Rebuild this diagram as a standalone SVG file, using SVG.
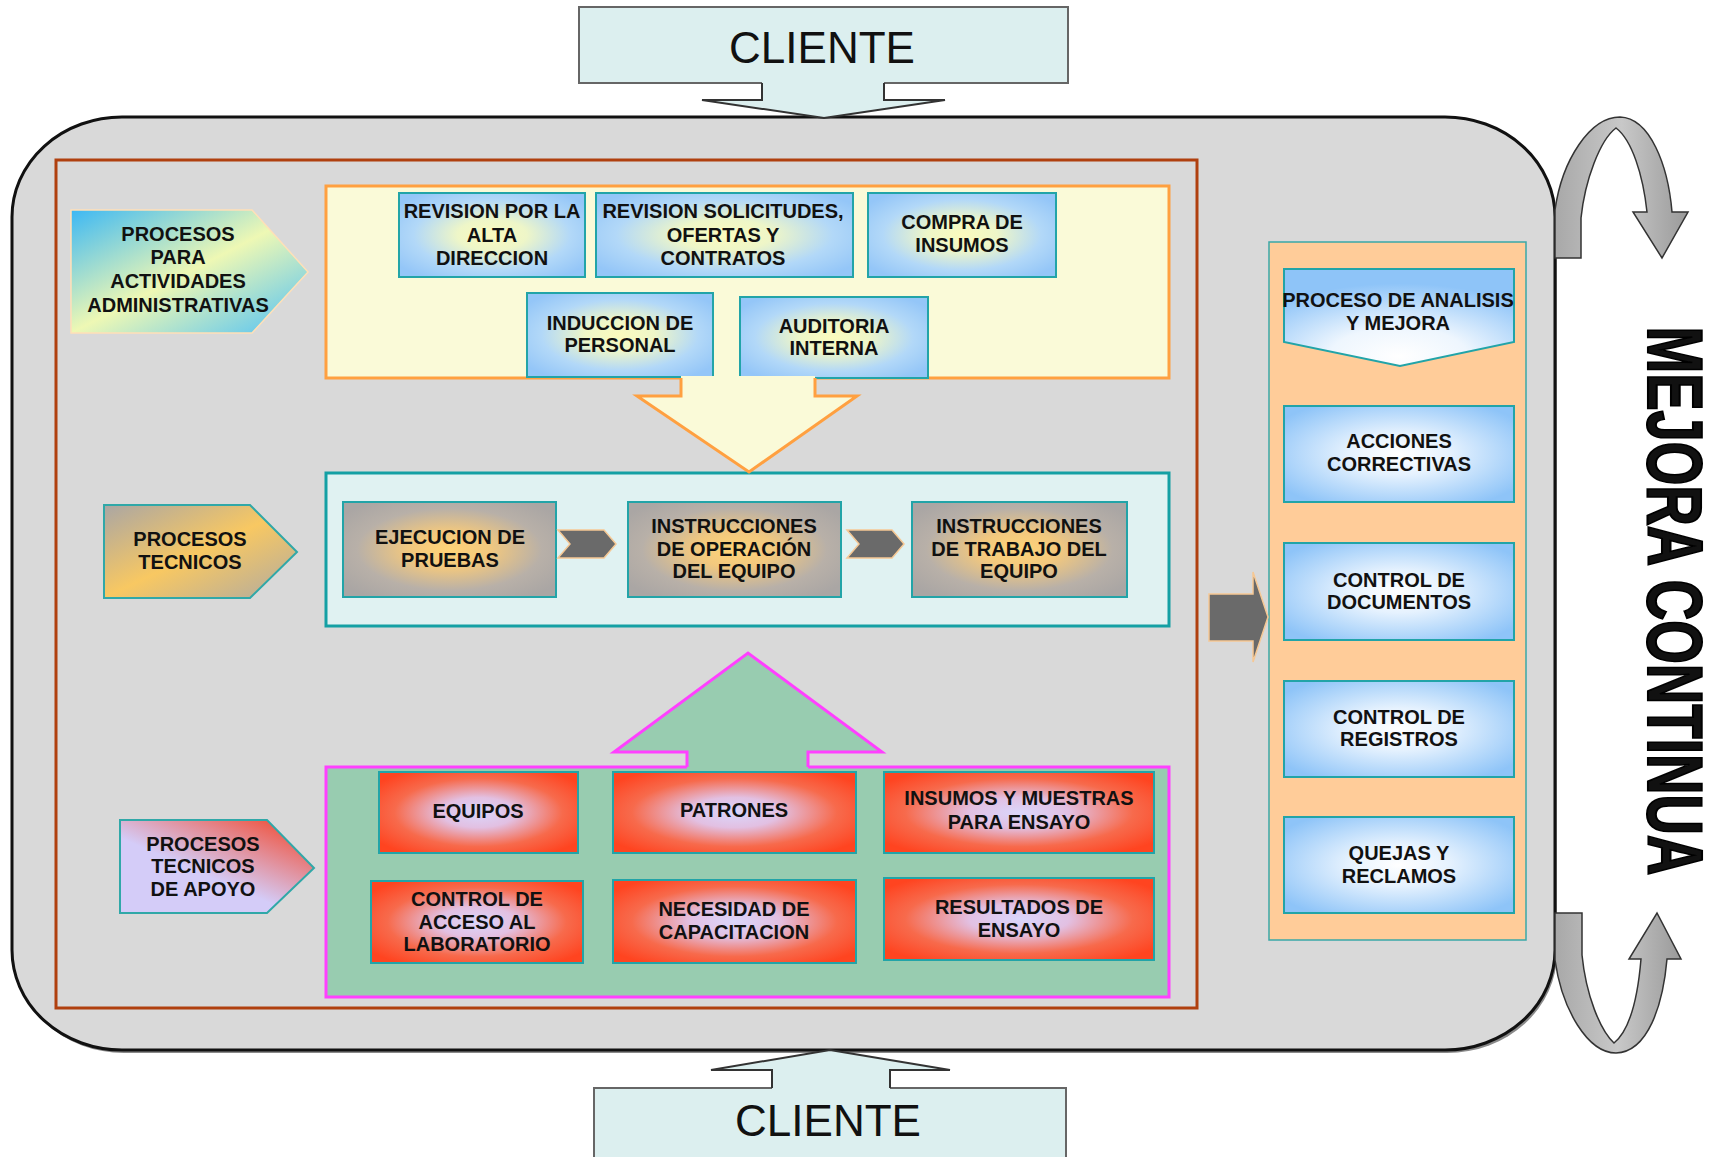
<svg xmlns="http://www.w3.org/2000/svg" width="1727" height="1157" viewBox="0 0 1727 1157">
<defs>
<radialGradient id="gBlue" cx="0.5" cy="0.5" r="0.62">
<stop offset="0" stop-color="#fbfbbe"/><stop offset="0.3" stop-color="#eef6c8"/><stop offset="0.68" stop-color="#b2d8f8"/><stop offset="1" stop-color="#94c6f8"/>
</radialGradient>
<radialGradient id="gGray" cx="0.5" cy="0.5" r="0.62">
<stop offset="0" stop-color="#ffd478"/><stop offset="0.3" stop-color="#f2c87e"/><stop offset="0.7" stop-color="#b8b0a8"/><stop offset="1" stop-color="#aaa6a4"/>
</radialGradient>
<radialGradient id="gRed" cx="0.5" cy="0.5" r="0.62">
<stop offset="0" stop-color="#dad6fb"/><stop offset="0.3" stop-color="#e2c0e2"/><stop offset="0.68" stop-color="#f76a4c"/><stop offset="1" stop-color="#ff4420"/>
</radialGradient>
<radialGradient id="gWhite" cx="0.5" cy="0.5" r="0.62">
<stop offset="0" stop-color="#ffffff"/><stop offset="0.35" stop-color="#e6f2fe"/><stop offset="1" stop-color="#8ec4f8"/>
</radialGradient>
<radialGradient id="gAnal" cx="0.5" cy="0.9" r="0.75">
<stop offset="0" stop-color="#ffffff"/><stop offset="0.4" stop-color="#eef6fe"/><stop offset="1" stop-color="#8ec4f8"/>
</radialGradient>
<linearGradient id="gAdm" x1="0" y1="0" x2="1" y2="1">
<stop offset="0" stop-color="#3cb8f4"/><stop offset="0.5" stop-color="#eef8b4"/><stop offset="1" stop-color="#4cc0f8"/>
</linearGradient>
<linearGradient id="gTec" x1="0" y1="0" x2="1" y2="1">
<stop offset="0" stop-color="#aaa6a4"/><stop offset="0.5" stop-color="#f8c862"/><stop offset="1" stop-color="#b0aaa2"/>
</linearGradient>
<linearGradient id="gApo" x1="0.95" y1="0.05" x2="0.45" y2="0.6">
<stop offset="0" stop-color="#f24a30"/><stop offset="1" stop-color="#d4ccf8"/>
</linearGradient>
<linearGradient id="gCurl" x1="0" y1="0" x2="1" y2="0">
<stop offset="0" stop-color="#a8a8a8"/><stop offset="0.5" stop-color="#c8c8c8"/><stop offset="1" stop-color="#9a9a9a"/>
</linearGradient>
</defs>
<style>
text{font-family:"Liberation Sans",Arial,sans-serif;font-weight:bold;font-size:20px;fill:#111;text-anchor:middle}
.cli{font-weight:normal;font-size:44px;fill:#111}
.blue{fill:url(#gBlue);stroke:#22a4a8;stroke-width:2}
.gray{fill:url(#gGray);stroke:#22a4a8;stroke-width:2}
.red{fill:url(#gRed);stroke:#22a4a8;stroke-width:2}
.wht{fill:url(#gWhite);stroke:#22a4a8;stroke-width:2}
.chev{fill:#6a6a6a;stroke:#f6c894;stroke-width:1.5}
.clibox{fill:#dcefef;stroke:#666;stroke-width:2}
.curl{fill:url(#gCurl);stroke:#333;stroke-width:1.5}
</style>

<rect width="1727" height="1157" fill="#ffffff"/>

<!-- outer process frame -->
<g id="frame">
<rect x="14" y="120" width="1543" height="933" rx="110" ry="100" fill="#8a8a8a"/>
<rect x="12" y="117" width="1543" height="933" rx="110" ry="100" fill="#d9d9d9" stroke="#111" stroke-width="3"/>
<rect x="56" y="160" width="1141" height="848" fill="none" stroke="#b0400f" stroke-width="3"/>
</g>

<!-- CLIENTE top -->
<g id="cliente-top">
<rect class="clibox" x="579" y="7" width="489" height="76"/>
<polygon points="762,82 762,100 702,100 824,118 945,100 884,100 884,82" fill="#dcefef"/>
<polyline points="762,83 762,100 702,100 824,118 945,100 884,100 884,83" fill="none" stroke="#333" stroke-width="2"/>
<text class="cli" x="822" y="63">CLIENTE</text>
</g>

<!-- CLIENTE bottom -->
<g id="cliente-bottom">
<rect class="clibox" x="594" y="1088" width="472" height="80"/>
<polygon points="772,1089 772,1070 711,1070 830,1050 950,1070 890,1070 890,1089" fill="#dcefef"/>
<polyline points="772,1088 772,1070 711,1070 830,1050 950,1070 890,1070 890,1088" fill="none" stroke="#333" stroke-width="2"/>
<text class="cli" x="828" y="1136">CLIENTE</text>
</g>

<!-- administrative block -->
<g id="admin-block">
<rect x="326" y="186" width="843" height="192" fill="#fafad8" stroke="#ffa040" stroke-width="3"/>
</g>
<g id="revision-alta-direccion">
<rect class="blue" x="399" y="193" width="186" height="84"/>
<text x="492" y="218">REVISION POR LA</text><text x="492" y="242">ALTA</text><text x="492" y="265">DIRECCION</text>
</g>
<g id="revision-solicitudes">
<rect class="blue" x="596" y="193" width="257" height="84"/>
<text x="723" y="218">REVISION SOLICITUDES,</text><text x="723" y="242">OFERTAS Y</text><text x="723" y="265">CONTRATOS</text>
</g>
<g id="compra-insumos">
<rect class="blue" x="868" y="193" width="188" height="84"/>
<text x="962" y="229">COMPRA DE</text><text x="962" y="252">INSUMOS</text>
</g>
<g id="induccion-personal">
<rect class="blue" x="527" y="293" width="186" height="84"/>
<text x="620" y="330">INDUCCION DE</text><text x="620" y="352">PERSONAL</text>
</g>
<g id="auditoria-interna">
<rect class="blue" x="740" y="297" width="188" height="81"/>
<text x="834" y="333">AUDITORIA</text><text x="834" y="355">INTERNA</text>
</g>
<g id="label-admin">
<polygon points="71,210 252,210 308,272 252,333 71,333" fill="url(#gAdm)" stroke="#ffe0b8" stroke-width="1.5"/>
<text x="178" y="241">PROCESOS</text><text x="178" y="264">PARA</text><text x="178" y="288">ACTIVIDADES</text><text x="178" y="312">ADMINISTRATIVAS</text>
</g>

<!-- technical block -->
<g id="tech-block">
<rect x="326" y="473" width="843" height="153" fill="#e0f2f2" stroke="#14a0a4" stroke-width="3"/>
</g>
<g id="ejecucion-pruebas">
<rect class="gray" x="343" y="502" width="213" height="95"/>
<text x="450" y="544">EJECUCION DE</text><text x="450" y="567">PRUEBAS</text>
</g>
<g id="instrucciones-operacion">
<rect class="gray" x="628" y="502" width="213" height="95"/>
<text x="734" y="533">INSTRUCCIONES</text><text x="734" y="556">DE OPERACIÓN</text><text x="734" y="578">DEL EQUIPO</text>
</g>
<g id="instrucciones-trabajo">
<rect class="gray" x="912" y="502" width="215" height="95"/>
<text x="1019" y="533">INSTRUCCIONES</text><text x="1019" y="556">DE TRABAJO DEL</text><text x="1019" y="578">EQUIPO</text>
</g>
<g id="label-tecnicos">
<polygon points="104,505 250,505 297,552 250,598 104,598" fill="url(#gTec)" stroke="#30a8a8" stroke-width="2"/>
<text x="190" y="546">PROCESOS</text><text x="190" y="569">TECNICOS</text>
</g>

<!-- support block -->
<g id="support-block">
<rect x="326" y="767" width="843" height="230" fill="#98ccb0" stroke="#ff40ff" stroke-width="3"/>
</g>
<g id="equipos">
<rect class="red" x="379" y="772" width="199" height="81"/>
<text x="478" y="818">EQUIPOS</text>
</g>
<g id="patrones">
<rect class="red" x="613" y="772" width="243" height="81"/>
<text x="734" y="817">PATRONES</text>
</g>
<g id="insumos-muestras">
<rect class="red" x="884" y="772" width="270" height="81"/>
<text x="1019" y="805">INSUMOS Y MUESTRAS</text><text x="1019" y="829">PARA ENSAYO</text>
</g>
<g id="control-acceso">
<rect class="red" x="371" y="881" width="212" height="82"/>
<text x="477" y="906">CONTROL DE</text><text x="477" y="929">ACCESO AL</text><text x="477" y="951">LABORATORIO</text>
</g>
<g id="necesidad-capacitacion">
<rect class="red" x="613" y="880" width="243" height="83"/>
<text x="734" y="916">NECESIDAD DE</text><text x="734" y="939">CAPACITACION</text>
</g>
<g id="resultados-ensayo">
<rect class="red" x="884" y="878" width="270" height="82"/>
<text x="1019" y="914">RESULTADOS DE</text><text x="1019" y="937">ENSAYO</text>
</g>
<g id="label-apoyo">
<polygon points="120,820 267,820 314,868 267,913 120,913" fill="url(#gApo)" stroke="#30a8a8" stroke-width="2"/>
<text x="203" y="851">PROCESOS</text><text x="203" y="873">TECNICOS</text><text x="203" y="896">DE APOYO</text>
</g>

<!-- analysis column -->
<g id="analysis-column">
<rect x="1269" y="242" width="257" height="698" fill="#ffcc99" stroke="#3aa8a8" stroke-width="1.5"/>
</g>
<g id="proceso-analisis">
<polygon points="1284,269 1514,269 1514,342 1400,366 1284,342" fill="url(#gAnal)" stroke="#22a4a8" stroke-width="2"/>
<text x="1398" y="307">PROCESO DE ANALISIS</text><text x="1398" y="330">Y MEJORA</text>
</g>
<g id="acciones-correctivas">
<rect class="wht" x="1284" y="406" width="230" height="96"/>
<text x="1399" y="448">ACCIONES</text><text x="1399" y="471">CORRECTIVAS</text>
</g>
<g id="control-documentos">
<rect class="wht" x="1284" y="543" width="230" height="97"/>
<text x="1399" y="587">CONTROL DE</text><text x="1399" y="609">DOCUMENTOS</text>
</g>
<g id="control-registros">
<rect class="wht" x="1284" y="681" width="230" height="96"/>
<text x="1399" y="724">CONTROL DE</text><text x="1399" y="746">REGISTROS</text>
</g>
<g id="quejas-reclamos">
<rect class="wht" x="1284" y="817" width="230" height="96"/>
<text x="1399" y="860">QUEJAS Y</text><text x="1399" y="883">RECLAMOS</text>
</g>

<!-- connectors -->
<g id="connectors">
<polygon points="681,376 681,396 637,396 749,472 857,396 815,396 815,376" fill="#fafad8"/>
<polyline points="681,378 681,396 637,396 749,472 857,396 815,396 815,378" fill="none" stroke="#ffa040" stroke-width="3"/>
<polygon points="687,769 687,752 614,752 748,653 882,752 808,752 808,769" fill="#98ccb0"/>
<polyline points="687,767 687,752 614,752 748,653 882,752 808,752 808,767" fill="none" stroke="#ff40ff" stroke-width="3"/>
<polygon class="chev" points="558,530 604,530 616,544 604,558 558,558 570,544"/>
<polygon class="chev" points="847,530 892,530 904,544 892,558 847,558 859,544"/>
<polygon class="chev" points="1209,594 1253,594 1253,572 1268,617 1253,662 1253,641 1209,641"/>
<path class="curl" d="M1555,258 L1581,258 L1581,218 C1585,180 1600,140 1616,128 C1632,140 1643,175 1647,212 L1633,212 L1662,258 L1688,212 L1672,212 C1668,165 1650,118 1620,117 C1590,117 1562,160 1555,210 Z"/>
<path class="curl" d="M1555,913 L1582,913 L1582,955 C1586,995 1600,1030 1614,1043 C1630,1030 1638,995 1641,959 L1629,959 L1657,913 L1681,959 L1667,959 C1663,1005 1648,1052 1616,1053 C1588,1053 1562,1010 1555,960 Z"/>
</g>

<g id="mejora-continua">
<text transform="translate(1648,601) rotate(90) scale(1,1.4)" x="0" y="0" style="font-size:56px;font-weight:bold;stroke:#000;stroke-width:1.5" textLength="549" lengthAdjust="spacingAndGlyphs">MEJORA CONTINUA</text>
</g>
</svg>
